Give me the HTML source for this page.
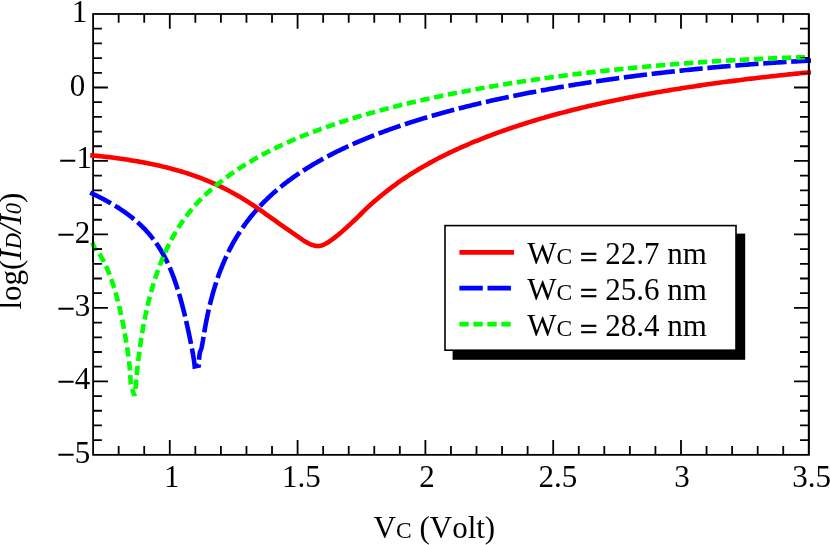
<!DOCTYPE html>
<html><head><meta charset="utf-8"><title>chart</title>
<style>
html,body{margin:0;padding:0;background:#fff;}
body{width:830px;height:545px;overflow:hidden;font-family:"Liberation Serif",serif;}
svg{display:block;will-change:transform;}
text{font-family:"Liberation Serif",serif;font-size:31px;fill:#000;font-kerning:none;}
</style></head><body>
<svg width="830" height="545" viewBox="0 0 830 545">
<rect width="830" height="545" fill="#fff"/>
<g stroke="#000" stroke-width="1.8" fill="none">
<rect x="93.1" y="14.0" width="715.70" height="440.85"/>
<path d="M118.66,454.85 v-8.8 M144.22,454.85 v-8.8 M169.78,454.85 v-14.8 M195.34,454.85 v-8.8 M220.90,454.85 v-8.8 M246.46,454.85 v-8.8 M272.02,454.85 v-8.8 M297.59,454.85 v-14.8 M323.15,454.85 v-8.8 M348.71,454.85 v-8.8 M374.27,454.85 v-8.8 M399.83,454.85 v-8.8 M425.39,454.85 v-14.8 M450.95,454.85 v-8.8 M476.51,454.85 v-8.8 M502.07,454.85 v-8.8 M527.63,454.85 v-8.8 M553.19,454.85 v-14.8 M578.75,454.85 v-8.8 M604.31,454.85 v-8.8 M629.87,454.85 v-8.8 M655.44,454.85 v-8.8 M681.00,454.85 v-14.8 M706.56,454.85 v-8.8 M732.12,454.85 v-8.8 M757.68,454.85 v-8.8 M783.24,454.85 v-8.8 M93.1,28.70 h8.8 M93.1,43.39 h8.8 M93.1,58.09 h8.8 M93.1,72.78 h8.8 M93.1,87.48 h14.8 M93.1,102.17 h8.8 M93.1,116.87 h8.8 M93.1,131.56 h8.8 M93.1,146.26 h8.8 M93.1,160.95 h14.8 M93.1,175.65 h8.8 M93.1,190.34 h8.8 M93.1,205.04 h8.8 M93.1,219.73 h8.8 M93.1,234.43 h14.8 M93.1,249.12 h8.8 M93.1,263.82 h8.8 M93.1,278.51 h8.8 M93.1,293.21 h8.8 M93.1,307.90 h14.8 M93.1,322.60 h8.8 M93.1,337.29 h8.8 M93.1,351.99 h8.8 M93.1,366.68 h8.8 M93.1,381.38 h14.8 M93.1,396.07 h8.8 M93.1,410.77 h8.8 M93.1,425.46 h8.8 M93.1,440.16 h8.8 M118.66,14.0 v8.8 M144.22,14.0 v8.8 M169.78,14.0 v14.8 M195.34,14.0 v8.8 M220.90,14.0 v8.8 M246.46,14.0 v8.8 M272.02,14.0 v8.8 M297.59,14.0 v14.8 M323.15,14.0 v8.8 M348.71,14.0 v8.8 M374.27,14.0 v8.8 M399.83,14.0 v8.8 M425.39,14.0 v14.8 M450.95,14.0 v8.8 M476.51,14.0 v8.8 M502.07,14.0 v8.8 M527.63,14.0 v8.8 M553.19,14.0 v14.8 M578.75,14.0 v8.8 M604.31,14.0 v8.8 M629.87,14.0 v8.8 M655.44,14.0 v8.8 M681.00,14.0 v14.8 M706.56,14.0 v8.8 M732.12,14.0 v8.8 M757.68,14.0 v8.8 M783.24,14.0 v8.8 M808.8,28.70 h-8.8 M808.8,43.39 h-8.8 M808.8,58.09 h-8.8 M808.8,72.78 h-8.8 M808.8,87.48 h-14.8 M808.8,102.17 h-8.8 M808.8,116.87 h-8.8 M808.8,131.56 h-8.8 M808.8,146.26 h-8.8 M808.8,160.95 h-14.8 M808.8,175.65 h-8.8 M808.8,190.34 h-8.8 M808.8,205.04 h-8.8 M808.8,219.73 h-8.8 M808.8,234.43 h-14.8 M808.8,249.12 h-8.8 M808.8,263.82 h-8.8 M808.8,278.51 h-8.8 M808.8,293.21 h-8.8 M808.8,307.90 h-14.8 M808.8,322.60 h-8.8 M808.8,337.29 h-8.8 M808.8,351.99 h-8.8 M808.8,366.68 h-8.8 M808.8,381.38 h-14.8 M808.8,396.07 h-8.8 M808.8,410.77 h-8.8 M808.8,425.46 h-8.8 M808.8,440.16 h-8.8"/>
</g>
<g fill="none" stroke-width="4.6" stroke-linejoin="miter">
<path d="M90.20,192.59 L91.36,193.13 L92.51,193.68 L93.67,194.24 L94.83,194.80 L95.98,195.37 L97.14,195.94 L98.29,196.52 L99.45,197.10 L100.61,197.70 L101.76,198.29 L102.92,198.90 L104.08,199.51 L105.23,200.13 L106.39,200.76 L107.55,201.40 L108.70,202.04 L109.86,202.70 L111.01,203.36 L112.17,204.04 L113.33,204.72 L114.48,205.41 L115.64,206.12 L116.80,206.84 L117.95,207.56 L119.11,208.30 L120.26,209.06 L121.42,209.82 L122.58,210.60 L123.73,211.40 L124.89,212.21 L126.05,213.03 L127.20,213.87 L128.36,214.73 L129.52,215.61 L130.67,216.50 L131.83,217.41 L132.98,218.34 L134.14,219.30 L135.30,220.27 L136.45,221.27 L137.61,222.29 L138.77,223.33 L139.92,224.41 L141.08,225.50 L142.24,226.63 L143.39,227.79 L144.55,228.97 L145.70,230.19 L146.86,231.45 L148.02,232.74 L149.17,234.07 L150.33,235.44 L151.49,236.85 L152.64,238.31 L153.80,239.82 L154.96,241.37 L156.11,242.98 L157.27,244.65 L158.42,246.38 L159.58,248.17 L160.74,250.03 L161.89,251.97 L163.05,253.99 L164.21,256.10 L165.36,258.29 L166.52,260.59 L167.68,263.00 L168.83,265.53 L169.99,268.18 L171.14,270.96 L172.30,273.87 L173.46,276.92 L174.61,280.11 L175.77,283.45 L176.93,286.95 L178.08,290.60 L179.24,294.42 L180.39,298.41 L181.55,302.58 L181.73,303.24 L181.90,303.89 L182.08,304.54 L182.25,305.18 L182.42,305.82 L182.58,306.46 L182.75,307.09 L182.91,307.72 L183.07,308.35 L183.23,308.97 L183.39,309.59 L183.54,310.21 L183.70,310.82 L183.85,311.43 L184.00,312.04 L184.15,312.64 L184.30,313.24 L184.44,313.83 L184.59,314.42 L184.73,315.01 L184.90,315.73 L185.08,316.45 L185.25,317.17 L185.41,317.88 L185.58,318.58 L185.74,319.28 L185.90,319.97 L186.06,320.66 L186.22,321.33 L186.37,322.01 L186.52,322.67 L186.67,323.33 L186.82,323.99 L186.96,324.63 L187.10,325.27 L187.25,325.91 L187.38,326.54 L187.52,327.16 L187.66,327.77 L187.79,328.38 L187.92,328.99 L188.05,329.58 L188.18,330.18 L188.33,330.88 L188.47,331.57 L188.62,332.25 L188.76,332.93 L188.90,333.59 L189.04,334.25 L189.18,334.90 L189.31,335.53 L189.44,336.16 L189.57,336.79 L189.69,337.40 L189.82,338.00 L189.94,338.60 L190.08,339.28 L190.22,339.96 L190.35,340.62 L190.48,341.27 L190.61,341.91 L190.74,342.54 L190.86,343.16 L190.98,343.77 L191.10,344.36 L191.23,345.03 L191.36,345.69 L191.49,346.33 L191.61,346.96 L191.73,347.57 L191.85,348.18 L191.97,348.77 L192.10,349.43 L192.22,350.07 L192.34,350.70 L192.46,351.32 L192.57,351.94 L192.68,352.54 L192.79,353.14 L192.90,353.73 L193.01,354.38 L193.12,355.02 L193.23,355.66 L193.33,356.29 L193.43,356.91 L193.53,357.53 L193.63,358.15 L193.72,358.76 L193.81,359.37 L193.90,359.97 L193.99,360.56 L194.08,361.22 L194.17,361.87 L194.25,362.51 L194.33,363.15 L194.41,363.78 L194.49,364.41 L194.57,365.05 L194.63,365.65 L194.70,366.26 L194.71,366.39 L198.71,365.52 L198.74,364.86 L198.78,364.23 L198.81,363.60 L198.84,363.00 L198.88,362.30 L198.92,361.63 L198.97,360.98 L199.01,360.35 L199.05,359.73 L199.10,359.06 L199.15,358.41 L199.21,357.79 L199.27,357.12 L199.33,356.49 L199.40,355.89 L199.47,355.26 L199.55,354.62 L199.65,353.98 L199.76,353.35 L199.87,352.74 L200.02,352.13 L200.18,351.54 L200.39,350.96 L200.63,350.38 L200.88,349.81 L201.09,349.23 L201.28,348.63 L201.45,348.02 L201.60,347.42 L201.74,346.83 L201.88,346.17 L202.01,345.54 L202.13,344.94 L202.25,344.30 L202.38,343.62 L202.49,343.01 L202.61,342.36 L202.72,341.69 L202.83,341.10 L202.93,340.48 L203.04,339.85 L203.15,339.21 L203.26,338.55 L203.37,337.87 L203.48,337.18 L203.60,336.47 L203.69,335.87 L203.79,335.26 L203.90,334.65 L204.00,334.03 L204.10,333.40 L204.21,332.76 L204.31,332.12 L204.42,331.48 L204.53,330.83 L204.64,330.18 L204.76,329.53 L204.87,328.87 L204.99,328.21 L205.11,327.54 L205.23,326.87 L205.35,326.20 L205.47,325.53 L205.60,324.85 L205.73,324.16 L205.85,323.48 L205.99,322.79 L206.12,322.09 L206.25,321.39 L206.39,320.69 L206.53,319.99 L206.67,319.28 L206.81,318.57 L206.96,317.86 L207.11,317.14 L207.25,316.42 L207.41,315.69 L207.56,314.96 L207.72,314.23 L207.84,313.64 L207.97,313.05 L208.10,312.46 L208.23,311.86 L208.36,311.27 L208.50,310.67 L208.63,310.07 L208.77,309.46 L208.91,308.86 L209.05,308.25 L209.19,307.64 L209.33,307.03 L209.48,306.41 L209.63,305.80 L209.77,305.18 L209.92,304.56 L210.08,303.94 L210.23,303.31 L210.39,302.69 L210.54,302.06 L210.70,301.43 L210.86,300.79 L211.03,300.16 L211.19,299.52 L211.36,298.88 L211.53,298.24 L211.70,297.60 L211.87,296.95 L212.05,296.31 L212.22,295.66 L213.42,291.39 L214.62,287.35 L215.82,283.51 L217.02,279.86 L218.22,276.37 L219.42,273.04 L220.62,269.85 L221.82,266.79 L223.02,263.86 L224.22,261.03 L225.42,258.32 L226.62,255.70 L227.82,253.17 L229.02,250.73 L230.22,248.37 L231.42,246.08 L232.62,243.87 L233.82,241.72 L235.02,239.64 L236.22,237.62 L237.42,235.65 L238.62,233.74 L239.82,231.88 L241.02,230.07 L242.22,228.30 L243.42,226.58 L244.62,224.90 L245.82,223.25 L247.02,221.64 L248.22,220.06 L249.42,218.52 L250.62,217.00 L251.82,215.51 L253.02,214.06 L254.22,212.63 L255.42,211.24 L256.62,209.87 L257.82,208.52 L259.02,207.21 L260.22,205.92 L261.42,204.65 L262.62,203.40 L263.82,202.18 L265.02,200.97 L266.22,199.79 L267.42,198.63 L268.62,197.48 L269.82,196.35 L271.02,195.25 L272.22,194.16 L273.42,193.08 L274.62,192.02 L275.82,190.98 L277.02,189.95 L278.22,188.94 L279.42,187.94 L280.62,186.96 L281.82,185.99 L283.02,185.03 L284.22,184.08 L285.42,183.15 L286.62,182.23 L287.82,181.32 L289.02,180.43 L290.22,179.54 L291.42,178.67 L292.62,177.80 L293.82,176.95 L295.02,176.11 L296.22,175.27 L297.42,174.45 L298.62,173.64 L299.82,172.83 L301.02,172.03 L302.22,171.25 L303.42,170.47 L304.62,169.70 L305.82,168.94 L307.02,168.18 L308.22,167.44 L309.42,166.70 L310.62,165.97 L311.82,165.25 L313.02,164.53 L314.22,163.82 L315.42,163.12 L316.62,162.43 L317.82,161.74 L319.02,161.06 L320.22,160.39 L321.42,159.72 L322.62,159.06 L323.82,158.40 L325.02,157.75 L326.22,157.11 L327.42,156.47 L328.62,155.84 L329.82,155.21 L331.02,154.59 L332.22,153.97 L333.42,153.36 L334.62,152.76 L335.82,152.16 L337.02,151.56 L338.22,150.97 L339.42,150.39 L340.62,149.81 L341.82,149.23 L343.02,148.66 L344.22,148.10 L345.42,147.54 L346.62,146.98 L347.82,146.43 L349.02,145.88 L350.22,145.34 L351.42,144.80 L352.62,144.26 L353.82,143.73 L355.02,143.20 L356.22,142.68 L357.42,142.16 L358.62,141.64 L359.82,141.13 L361.02,140.62 L362.22,140.12 L363.42,139.62 L364.62,139.12 L365.82,138.63 L367.02,138.14 L368.22,137.65 L369.42,137.17 L370.62,136.69 L371.82,136.21 L373.02,135.74 L374.22,135.27 L375.42,134.81 L376.62,134.34 L377.82,133.88 L379.02,133.42 L380.22,132.97 L381.42,132.52 L382.62,132.07 L383.82,131.63 L385.02,131.18 L386.22,130.75 L387.42,130.31 L388.62,129.88 L389.82,129.44 L391.02,129.02 L392.22,128.59 L393.42,128.17 L394.62,127.75 L395.82,127.33 L397.02,126.92 L398.22,126.50 L399.42,126.10 L400.62,125.69 L401.82,125.28 L403.02,124.88 L404.22,124.48 L405.42,124.08 L406.62,123.69 L407.82,123.30 L409.02,122.91 L410.22,122.52 L411.42,122.13 L412.62,121.75 L413.82,121.37 L415.02,120.99 L416.22,120.61 L417.42,120.24 L418.62,119.87 L419.82,119.50 L421.02,119.13 L422.22,118.76 L423.42,118.40 L424.62,118.04 L425.82,117.68 L427.02,117.32 L428.22,116.97 L429.42,116.61 L430.62,116.26 L431.82,115.91 L433.02,115.56 L434.22,115.22 L435.42,114.87 L436.61,114.53 L437.81,114.19 L439.01,113.85 L440.21,113.52 L441.41,113.18 L442.61,112.85 L443.81,112.52 L445.01,112.19 L446.21,111.86 L447.41,111.53 L448.61,111.21 L449.81,110.89 L451.01,110.57 L452.21,110.25 L453.41,109.93 L454.61,109.62 L455.81,109.30 L457.01,108.99 L458.21,108.68 L459.41,108.37 L460.61,108.06 L461.81,107.76 L463.01,107.45 L464.21,107.15 L465.41,106.85 L466.61,106.55 L467.81,106.25 L469.01,105.95 L470.21,105.66 L471.41,105.36 L472.61,105.07 L473.81,104.78 L475.01,104.49 L476.21,104.20 L477.41,103.92 L478.61,103.63 L479.81,103.35 L481.01,103.07 L482.21,102.78 L483.41,102.51 L484.61,102.23 L485.81,101.95 L487.01,101.68 L488.21,101.40 L489.41,101.13 L490.61,100.86 L491.81,100.59 L493.01,100.32 L494.21,100.05 L495.41,99.79 L496.61,99.52 L497.81,99.26 L499.01,98.99 L500.21,98.73 L501.41,98.47 L502.61,98.22 L503.81,97.96 L505.01,97.70 L506.21,97.45 L507.41,97.19 L508.61,96.94 L509.81,96.69 L511.01,96.44 L512.21,96.19 L513.41,95.94 L514.61,95.70 L515.81,95.45 L517.01,95.21 L518.21,94.97 L519.41,94.72 L520.61,94.48 L521.81,94.24 L523.01,94.01 L524.21,93.77 L525.41,93.53 L526.61,93.30 L527.81,93.06 L529.01,92.83 L530.21,92.60 L531.41,92.37 L532.61,92.14 L533.81,91.91 L535.01,91.68 L536.21,91.46 L537.41,91.23 L538.61,91.01 L539.81,90.78 L541.01,90.56 L542.21,90.34 L543.41,90.12 L544.61,89.90 L545.81,89.68 L547.01,89.46 L548.21,89.25 L549.41,89.03 L550.61,88.82 L551.81,88.61 L553.01,88.39 L554.21,88.18 L555.41,87.97 L556.61,87.76 L557.81,87.56 L559.01,87.35 L560.21,87.14 L561.41,86.94 L562.61,86.73 L563.81,86.53 L565.01,86.33 L566.21,86.12 L567.41,85.92 L568.61,85.72 L569.81,85.52 L571.01,85.33 L572.21,85.13 L573.41,84.93 L574.61,84.74 L575.81,84.54 L577.01,84.35 L578.21,84.16 L579.41,83.97 L580.61,83.78 L581.81,83.59 L583.01,83.40 L584.21,83.21 L585.41,83.02 L586.61,82.83 L587.81,82.65 L589.01,82.46 L590.21,82.28 L591.41,82.10 L592.61,81.92 L593.81,81.73 L595.01,81.55 L596.21,81.37 L597.41,81.20 L598.61,81.02 L599.81,80.84 L601.01,80.66 L602.21,80.49 L603.41,80.31 L604.61,80.14 L605.81,79.97 L607.01,79.79 L608.21,79.62 L609.41,79.45 L610.61,79.28 L611.81,79.11 L613.01,78.95 L614.21,78.78 L615.41,78.61 L616.61,78.45 L617.81,78.28 L619.01,78.12 L620.21,77.95 L621.41,77.79 L622.61,77.63 L623.81,77.47 L625.01,77.31 L626.21,77.15 L627.41,76.99 L628.61,76.83 L629.81,76.67 L631.01,76.51 L632.21,76.36 L633.41,76.20 L634.61,76.05 L635.81,75.90 L637.01,75.74 L638.21,75.59 L639.41,75.44 L640.61,75.29 L641.81,75.14 L643.01,74.99 L644.21,74.84 L645.41,74.69 L646.61,74.55 L647.81,74.40 L649.01,74.25 L650.21,74.11 L651.41,73.96 L652.61,73.82 L653.81,73.68 L655.01,73.54 L656.21,73.39 L657.41,73.25 L658.61,73.11 L659.81,72.97 L661.01,72.84 L662.21,72.70 L663.41,72.56 L664.61,72.42 L665.81,72.29 L667.01,72.15 L668.21,72.02 L669.41,71.89 L670.61,71.75 L671.81,71.62 L673.01,71.49 L674.21,71.36 L675.41,71.23 L676.61,71.10 L677.81,70.97 L679.01,70.84 L680.21,70.71 L681.41,70.59 L682.61,70.46 L683.81,70.33 L685.01,70.21 L686.20,70.08 L687.40,69.96 L688.60,69.84 L689.80,69.72 L691.00,69.59 L692.20,69.47 L693.40,69.35 L694.60,69.23 L695.80,69.11 L697.00,69.00 L698.20,68.88 L699.40,68.76 L700.60,68.64 L701.80,68.53 L703.00,68.41 L704.20,68.30 L705.40,68.18 L706.60,68.07 L707.80,67.96 L709.00,67.85 L710.20,67.74 L711.40,67.62 L712.60,67.51 L713.80,67.41 L715.00,67.30 L716.20,67.19 L717.40,67.08 L718.60,66.97 L719.80,66.87 L721.00,66.76 L722.20,66.66 L723.40,66.55 L724.60,66.45 L725.80,66.35 L727.00,66.24 L728.20,66.14 L729.40,66.04 L730.60,65.94 L731.80,65.84 L733.00,65.74 L734.20,65.64 L735.40,65.54 L736.60,65.45 L737.80,65.35 L739.00,65.25 L740.20,65.16 L741.40,65.06 L742.60,64.97 L743.80,64.87 L745.00,64.78 L746.20,64.69 L747.40,64.59 L748.60,64.50 L749.80,64.41 L751.00,64.32 L752.20,64.23 L753.40,64.14 L754.60,64.06 L755.80,63.97 L757.00,63.88 L758.20,63.79 L759.40,63.71 L760.60,63.62 L761.80,63.54 L763.00,63.45 L764.20,63.37 L765.40,63.29 L766.60,63.20 L767.80,63.12 L769.00,63.04 L770.20,62.96 L771.40,62.88 L772.60,62.80 L773.80,62.72 L775.00,62.64 L776.20,62.57 L777.40,62.49 L778.60,62.41 L779.80,62.34 L781.00,62.26 L782.20,62.19 L783.40,62.11 L784.60,62.04 L785.80,61.97 L787.00,61.89 L788.20,61.82 L789.40,61.75 L790.60,61.68 L791.80,61.61 L793.00,61.54 L794.20,61.47 L795.40,61.40 L796.60,61.34 L797.80,61.27 L799.00,61.20 L800.20,61.14 L801.40,61.07 L802.60,61.01 L803.80,60.94 L805.00,60.88 L806.20,60.82 L807.40,60.76 L808.60,60.69 L809.80,60.63 L811.00,60.57" stroke="#00f" stroke-dasharray="23.35 4.67"/>
<path d="M90.20,155.19 L92.01,155.36 L93.81,155.54 L95.62,155.72 L97.43,155.90 L99.23,156.09 L101.04,156.28 L102.85,156.48 L104.65,156.69 L106.46,156.89 L108.27,157.11 L110.07,157.33 L111.88,157.55 L113.68,157.78 L115.49,158.02 L117.30,158.26 L119.10,158.51 L120.91,158.76 L122.72,159.02 L124.52,159.28 L126.33,159.55 L128.14,159.83 L129.94,160.11 L131.75,160.40 L133.56,160.70 L135.36,161.00 L137.17,161.31 L138.98,161.63 L140.78,161.95 L142.59,162.28 L144.40,162.62 L146.20,162.96 L148.01,163.32 L149.82,163.68 L151.62,164.05 L153.43,164.42 L155.23,164.81 L157.04,165.20 L158.85,165.61 L160.65,166.02 L162.46,166.44 L164.27,166.87 L166.07,167.31 L167.88,167.76 L169.69,168.23 L171.49,168.70 L173.30,169.18 L175.11,169.68 L176.91,170.19 L178.72,170.71 L180.53,171.24 L182.33,171.78 L184.14,172.34 L185.95,172.91 L187.75,173.49 L189.56,174.09 L191.36,174.70 L193.17,175.32 L194.98,175.96 L196.78,176.61 L198.59,177.28 L200.40,177.95 L202.20,178.65 L204.01,179.36 L205.82,180.08 L207.62,180.82 L209.43,181.58 L211.24,182.35 L213.04,183.13 L214.85,183.94 L216.66,184.76 L218.46,185.60 L220.27,186.45 L222.08,187.32 L223.88,188.21 L225.69,189.12 L227.50,190.05 L229.30,190.99 L231.11,191.96 L232.91,192.94 L234.72,193.94 L236.53,194.96 L238.33,196.00 L240.14,197.06 L241.95,198.14 L243.75,199.24 L245.56,200.36 L247.37,201.50 L249.17,202.65 L250.98,203.83 L252.79,205.02 L254.59,206.23 L256.40,207.45 L258.21,208.69 L260.01,209.94 L261.82,211.21 L263.63,212.49 L265.43,213.77 L267.24,215.06 L269.05,216.35 L270.85,217.64 L272.66,218.92 L274.46,220.20 L276.27,221.49 L278.08,222.76 L279.88,224.04 L281.69,225.31 L283.50,226.59 L285.30,227.86 L287.11,229.13 L288.92,230.40 L290.72,231.67 L292.53,232.94 L294.34,234.20 L296.14,235.46 L297.95,236.71 L299.76,237.94 L301.56,239.15 L303.37,240.32 L305.18,241.44 L306.98,242.50 L308.79,243.47 L310.59,244.33 L312.40,245.04 L314.21,245.58 L316.01,245.90 L317.82,246.00 L319.63,245.85 L321.43,245.45 L323.24,244.84 L325.05,244.03 L326.85,243.05 L328.66,241.94 L330.47,240.73 L332.27,239.43 L334.08,238.07 L335.89,236.66 L337.69,235.20 L339.50,233.70 L341.31,232.18 L343.11,230.62 L344.92,229.03 L346.73,227.42 L348.53,225.78 L350.34,224.12 L352.14,222.44 L353.95,220.74 L355.76,219.02 L357.56,217.28 L359.37,215.52 L361.18,213.74 L362.98,211.96 L364.79,210.19 L366.60,208.43 L368.40,206.70 L370.21,205.01 L372.02,203.35 L373.82,201.75 L375.63,200.18 L377.44,198.65 L379.24,197.14 L381.05,195.66 L382.86,194.20 L384.66,192.76 L386.47,191.34 L388.28,189.94 L390.08,188.56 L391.89,187.20 L393.69,185.86 L395.50,184.54 L397.31,183.24 L399.11,181.96 L400.92,180.70 L402.73,179.46 L404.53,178.24 L406.34,177.04 L408.15,175.85 L409.95,174.68 L411.76,173.53 L413.57,172.40 L415.37,171.28 L417.18,170.18 L418.99,169.09 L420.79,168.02 L422.60,166.96 L424.41,165.92 L426.21,164.90 L428.02,163.88 L429.83,162.88 L431.63,161.89 L433.44,160.92 L435.24,159.96 L437.05,159.01 L438.86,158.07 L440.66,157.15 L442.47,156.24 L444.28,155.33 L446.08,154.44 L447.89,153.56 L449.70,152.69 L451.50,151.83 L453.31,150.98 L455.12,150.14 L456.92,149.31 L458.73,148.49 L460.54,147.68 L462.34,146.88 L464.15,146.08 L465.96,145.30 L467.76,144.52 L469.57,143.75 L471.37,142.99 L473.18,142.24 L474.99,141.49 L476.79,140.76 L478.60,140.03 L480.41,139.31 L482.21,138.59 L484.02,137.88 L485.83,137.18 L487.63,136.49 L489.44,135.80 L491.25,135.12 L493.05,134.44 L494.86,133.77 L496.67,133.11 L498.47,132.46 L500.28,131.80 L502.09,131.16 L503.89,130.52 L505.70,129.89 L507.51,129.26 L509.31,128.64 L511.12,128.02 L512.92,127.41 L514.73,126.81 L516.54,126.21 L518.34,125.61 L520.15,125.03 L521.96,124.44 L523.76,123.86 L525.57,123.29 L527.38,122.72 L529.18,122.16 L530.99,121.60 L532.80,121.05 L534.60,120.50 L536.41,119.96 L538.22,119.42 L540.02,118.89 L541.83,118.36 L543.64,117.84 L545.44,117.32 L547.25,116.80 L549.06,116.29 L550.86,115.79 L552.67,115.29 L554.47,114.79 L556.28,114.30 L558.09,113.81 L559.89,113.33 L561.70,112.85 L563.51,112.37 L565.31,111.90 L567.12,111.43 L568.93,110.97 L570.73,110.51 L572.54,110.05 L574.35,109.60 L576.15,109.15 L577.96,108.71 L579.77,108.26 L581.57,107.83 L583.38,107.39 L585.19,106.96 L586.99,106.54 L588.80,106.11 L590.61,105.69 L592.41,105.28 L594.22,104.87 L596.02,104.46 L597.83,104.05 L599.64,103.65 L601.44,103.25 L603.25,102.85 L605.06,102.46 L606.86,102.07 L608.67,101.68 L610.48,101.30 L612.28,100.91 L614.09,100.54 L615.90,100.16 L617.70,99.79 L619.51,99.42 L621.32,99.05 L623.12,98.69 L624.93,98.33 L626.74,97.97 L628.54,97.61 L630.35,97.26 L632.15,96.91 L633.96,96.56 L635.77,96.22 L637.57,95.88 L639.38,95.54 L641.19,95.20 L642.99,94.87 L644.80,94.53 L646.61,94.20 L648.41,93.88 L650.22,93.55 L652.03,93.23 L653.83,92.91 L655.64,92.59 L657.45,92.28 L659.25,91.96 L661.06,91.65 L662.87,91.35 L664.67,91.04 L666.48,90.74 L668.29,90.43 L670.09,90.13 L671.90,89.84 L673.70,89.54 L675.51,89.25 L677.32,88.96 L679.12,88.67 L680.93,88.38 L682.74,88.10 L684.54,87.81 L686.35,87.53 L688.16,87.25 L689.96,86.98 L691.77,86.70 L693.58,86.43 L695.38,86.16 L697.19,85.89 L699.00,85.62 L700.80,85.36 L702.61,85.09 L704.42,84.83 L706.22,84.57 L708.03,84.31 L709.84,84.06 L711.64,83.80 L713.45,83.55 L715.25,83.30 L717.06,83.05 L718.87,82.80 L720.67,82.55 L722.48,82.31 L724.29,82.07 L726.09,81.83 L727.90,81.59 L729.71,81.35 L731.51,81.12 L733.32,80.88 L735.13,80.65 L736.93,80.42 L738.74,80.19 L740.55,79.96 L742.35,79.73 L744.16,79.51 L745.97,79.29 L747.77,79.06 L749.58,78.84 L751.38,78.63 L753.19,78.41 L755.00,78.19 L756.80,77.98 L758.61,77.77 L760.42,77.55 L762.22,77.34 L764.03,77.14 L765.84,76.93 L767.64,76.72 L769.45,76.52 L771.26,76.32 L773.06,76.12 L774.87,75.92 L776.68,75.72 L778.48,75.52 L780.29,75.32 L782.10,75.13 L783.90,74.94 L785.71,74.74 L787.52,74.55 L789.32,74.36 L791.13,74.18 L792.93,73.99 L794.74,73.80 L796.55,73.62 L798.35,73.44 L800.16,73.26 L801.97,73.08 L803.77,72.90 L805.58,72.72 L807.39,72.54 L809.19,72.37 L811.00,72.19" stroke="#f00"/>
<path d="M92.30,242.30 L95.90,251.40 L98.84,253.07 L99.19,253.59 L99.53,254.12 L99.88,254.67 L100.22,255.22 L100.57,255.78 L100.91,256.36 L101.26,256.94 L101.61,257.54 L101.95,258.14 L102.30,258.76 L102.64,259.39 L102.99,260.04 L103.33,260.69 L103.68,261.36 L104.02,262.03 L104.37,262.72 L104.72,263.42 L105.06,264.14 L105.41,264.86 L105.75,265.60 L106.10,266.35 L106.44,267.12 L106.79,267.90 L107.14,268.69 L107.48,269.49 L107.83,270.31 L108.17,271.14 L108.52,271.98 L108.86,272.84 L109.21,273.72 L109.55,274.61 L109.90,275.51 L110.25,276.43 L110.59,277.36 L110.94,278.31 L111.28,279.27 L111.63,280.25 L111.97,281.25 L112.32,282.26 L112.66,283.29 L113.01,284.34 L113.36,285.40 L113.70,286.48 L114.05,287.58 L114.39,288.70 L114.74,289.84 L115.08,290.99 L115.43,292.17 L115.78,293.37 L116.12,294.58 L116.47,295.82 L116.81,297.08 L117.16,298.36 L117.50,299.66 L117.68,300.33 L117.86,301.00 L118.03,301.68 L118.20,302.35 L118.37,303.01 L118.53,303.68 L118.70,304.34 L118.86,305.00 L119.02,305.66 L119.18,306.32 L119.34,306.97 L119.50,307.62 L119.65,308.27 L119.80,308.92 L119.95,309.56 L120.10,310.21 L120.25,310.85 L120.39,311.48 L120.54,312.12 L120.68,312.75 L120.82,313.38 L120.96,314.01 L121.10,314.63 L121.23,315.25 L121.37,315.87 L121.50,316.49 L121.63,317.10 L121.76,317.71 L121.89,318.32 L122.01,318.92 L122.14,319.53 L122.26,320.13 L122.38,320.72 L122.50,321.32 L122.62,321.91 L122.77,322.64 L122.91,323.37 L123.06,324.09 L123.20,324.81 L123.34,325.53 L123.47,326.24 L123.61,326.95 L123.74,327.65 L123.87,328.34 L124.00,329.04 L124.13,329.72 L124.25,330.40 L124.38,331.08 L124.50,331.75 L124.62,332.42 L124.74,333.08 L124.85,333.74 L124.97,334.39 L125.08,335.04 L125.19,335.68 L125.31,336.32 L125.41,336.95 L125.52,337.58 L125.63,338.20 L125.73,338.82 L125.83,339.43 L125.93,340.04 L126.03,340.64 L126.13,341.24 L126.23,341.83 L126.34,342.53 L126.45,343.23 L126.56,343.92 L126.67,344.60 L126.78,345.28 L126.88,345.94 L126.99,346.61 L127.09,347.26 L127.19,347.91 L127.28,348.55 L127.38,349.18 L127.47,349.81 L127.57,350.42 L127.66,351.04 L127.75,351.65 L127.83,352.25 L127.92,352.85 L128.01,353.45 L128.10,354.14 L128.20,354.83 L128.29,355.52 L128.38,356.20 L128.47,356.88 L128.56,357.57 L128.65,358.25 L128.73,358.93 L128.81,359.61 L128.89,360.29 L128.97,360.98 L129.05,361.66 L129.13,362.35 L129.20,363.04 L129.27,363.73 L129.35,364.42 L129.42,365.11 L129.49,365.81 L129.54,366.41 L129.60,367.01 L129.66,367.61 L129.71,368.21 L129.77,368.82 L129.82,369.43 L129.87,370.04 L129.92,370.66 L129.97,371.29 L130.02,371.92 L130.07,372.56 L130.12,373.21 L130.16,373.87 L130.21,374.54 L130.26,375.22 L130.30,375.91 L130.34,376.62 L130.39,377.34 L130.42,377.94 L130.46,378.56 L130.49,379.19 L130.53,379.82 L130.56,380.47 L130.59,381.13 L130.62,381.79 L130.66,382.47 L130.69,383.16 L130.72,383.85 L130.72,383.99 L134.30,395.70 L135.30,390.91 L135.35,390.23 L135.40,389.56 L135.45,388.90 L135.51,388.23 L135.56,387.57 L135.62,386.91 L135.67,386.25 L135.73,385.58 L135.79,384.92 L135.85,384.24 L135.91,383.56 L135.98,382.86 L136.03,382.26 L136.09,381.65 L136.15,381.04 L136.20,380.41 L136.26,379.78 L136.32,379.14 L136.38,378.49 L136.45,377.84 L136.51,377.18 L136.57,376.51 L136.64,375.84 L136.71,375.15 L136.77,374.46 L136.84,373.77 L136.91,373.06 L136.99,372.35 L137.06,371.64 L137.12,371.04 L137.18,370.43 L137.25,369.82 L137.31,369.20 L137.38,368.58 L137.44,367.96 L137.51,367.33 L137.58,366.70 L137.65,366.06 L137.72,365.42 L137.79,364.78 L137.86,364.13 L137.93,363.48 L138.01,362.83 L138.08,362.17 L138.16,361.50 L138.24,360.84 L138.32,360.17 L138.40,359.49 L138.48,358.81 L138.56,358.13 L138.64,357.44 L138.73,356.75 L138.81,356.06 L138.90,355.36 L138.99,354.66 L139.08,353.96 L139.17,353.25 L139.26,352.53 L139.36,351.82 L139.45,351.10 L139.55,350.37 L139.65,349.64 L139.75,348.91 L139.85,348.18 L139.95,347.44 L140.05,346.69 L140.14,346.10 L140.22,345.50 L140.31,344.90 L140.40,344.29 L140.48,343.69 L140.57,343.08 L140.66,342.47 L140.76,341.85 L140.85,341.24 L140.94,340.62 L141.04,340.00 L141.13,339.38 L141.23,338.75 L141.33,338.12 L141.43,337.49 L141.53,336.86 L141.63,336.23 L141.73,335.59 L141.83,334.95 L141.94,334.31 L142.04,333.67 L142.15,333.02 L142.26,332.37 L142.37,331.72 L142.48,331.07 L142.59,330.41 L142.71,329.76 L142.82,329.10 L142.94,328.44 L143.06,327.77 L143.18,327.11 L143.30,326.44 L143.42,325.77 L143.54,325.10 L143.67,324.42 L143.79,323.75 L143.92,323.07 L144.05,322.38 L144.18,321.70 L144.31,321.02 L144.45,320.33 L144.58,319.64 L144.72,318.95 L144.86,318.25 L145.00,317.56 L145.14,316.86 L145.29,316.16 L145.43,315.45 L145.58,314.75 L145.73,314.04 L145.88,313.33 L146.03,312.62 L146.18,311.91 L146.34,311.20 L146.50,310.48 L146.66,309.76 L146.82,309.04 L146.98,308.32 L147.14,307.59 L147.31,306.86 L147.48,306.14 L147.65,305.40 L147.82,304.67 L148.00,303.94 L148.18,303.20 L149.49,297.92 L150.81,292.95 L152.13,288.27 L153.44,283.84 L154.76,279.63 L156.07,275.63 L157.39,271.82 L158.71,268.17 L160.02,264.69 L161.34,261.35 L162.66,258.14 L163.97,255.05 L165.29,252.09 L166.60,249.23 L167.92,246.47 L169.24,243.81 L170.55,241.24 L171.87,238.76 L173.19,236.36 L174.50,234.03 L175.82,231.78 L177.13,229.59 L178.45,227.48 L179.77,225.42 L181.08,223.43 L182.40,221.50 L183.72,219.62 L185.03,217.79 L186.35,216.01 L187.66,214.28 L188.98,212.60 L190.30,210.96 L191.61,209.36 L192.93,207.81 L194.25,206.29 L195.56,204.82 L196.88,203.37 L198.19,201.96 L199.51,200.58 L200.83,199.23 L202.14,197.91 L203.46,196.62 L204.78,195.35 L206.09,194.11 L207.41,192.89 L208.73,191.69 L210.04,190.52 L211.36,189.37 L212.67,188.23 L213.99,187.12 L215.31,186.02 L216.62,184.94 L217.94,183.88 L219.26,182.83 L220.57,181.80 L221.89,180.78 L223.20,179.77 L224.52,178.77 L225.84,177.79 L227.15,176.82 L228.47,175.86 L229.79,174.90 L231.10,173.96 L232.42,173.03 L233.73,172.12 L235.05,171.21 L236.37,170.32 L237.68,169.44 L239.00,168.57 L240.32,167.71 L241.63,166.86 L242.95,166.03 L244.26,165.20 L245.58,164.38 L246.90,163.57 L248.21,162.78 L249.53,161.99 L250.85,161.21 L252.16,160.44 L253.48,159.67 L254.79,158.92 L256.11,158.17 L257.43,157.44 L258.74,156.71 L260.06,155.98 L261.38,155.27 L262.69,154.56 L264.01,153.86 L265.33,153.17 L266.64,152.48 L267.96,151.81 L269.27,151.13 L270.59,150.47 L271.91,149.81 L273.22,149.16 L274.54,148.51 L275.86,147.87 L277.17,147.24 L278.49,146.61 L279.80,145.99 L281.12,145.37 L282.44,144.76 L283.75,144.15 L285.07,143.55 L286.39,142.96 L287.70,142.37 L289.02,141.78 L290.33,141.21 L291.65,140.63 L292.97,140.06 L294.28,139.50 L295.60,138.94 L296.92,138.38 L298.23,137.83 L299.55,137.29 L300.86,136.74 L302.18,136.21 L303.50,135.67 L304.81,135.15 L306.13,134.62 L307.45,134.10 L308.76,133.59 L310.08,133.07 L311.39,132.57 L312.71,132.06 L314.03,131.56 L315.34,131.07 L316.66,130.57 L317.98,130.08 L319.29,129.60 L320.61,129.12 L321.93,128.64 L323.24,128.16 L324.56,127.69 L325.87,127.22 L327.19,126.76 L328.51,126.30 L329.82,125.84 L331.14,125.39 L332.46,124.94 L333.77,124.49 L335.09,124.04 L336.40,123.60 L337.72,123.16 L339.04,122.73 L340.35,122.29 L341.67,121.86 L342.99,121.44 L344.30,121.01 L345.62,120.59 L346.93,120.17 L348.25,119.76 L349.57,119.34 L350.88,118.93 L352.20,118.52 L353.52,118.12 L354.83,117.72 L356.15,117.32 L357.46,116.92 L358.78,116.53 L360.10,116.13 L361.41,115.74 L362.73,115.36 L364.05,114.97 L365.36,114.59 L366.68,114.21 L368.00,113.83 L369.31,113.46 L370.63,113.08 L371.94,112.71 L373.26,112.34 L374.58,111.98 L375.89,111.61 L377.21,111.25 L378.53,110.89 L379.84,110.54 L381.16,110.18 L382.47,109.83 L383.79,109.48 L385.11,109.13 L386.42,108.78 L387.74,108.44 L389.06,108.09 L390.37,107.75 L391.69,107.41 L393.00,107.08 L394.32,106.74 L395.64,106.41 L396.95,106.08 L398.27,105.75 L399.59,105.42 L400.90,105.10 L402.22,104.77 L403.53,104.45 L404.85,104.13 L406.17,103.81 L407.48,103.50 L408.80,103.18 L410.12,102.87 L411.43,102.56 L412.75,102.25 L414.06,101.94 L415.38,101.64 L416.70,101.33 L418.01,101.03 L419.33,100.73 L420.65,100.43 L421.96,100.13 L423.28,99.84 L424.60,99.54 L425.91,99.25 L427.23,98.96 L428.54,98.67 L429.86,98.38 L431.18,98.09 L432.49,97.81 L433.81,97.53 L435.13,97.24 L436.44,96.96 L437.76,96.68 L439.07,96.41 L440.39,96.13 L441.71,95.86 L443.02,95.58 L444.34,95.31 L445.66,95.04 L446.97,94.77 L448.29,94.51 L449.60,94.24 L450.92,93.98 L452.24,93.71 L453.55,93.45 L454.87,93.19 L456.19,92.93 L457.50,92.67 L458.82,92.42 L460.13,92.16 L461.45,91.91 L462.77,91.66 L464.08,91.40 L465.40,91.15 L466.72,90.91 L468.03,90.66 L469.35,90.41 L470.66,90.17 L471.98,89.93 L473.30,89.68 L474.61,89.44 L475.93,89.20 L477.25,88.96 L478.56,88.73 L479.88,88.49 L481.20,88.26 L482.51,88.02 L483.83,87.79 L485.14,87.56 L486.46,87.33 L487.78,87.10 L489.09,86.87 L490.41,86.64 L491.73,86.42 L493.04,86.19 L494.36,85.97 L495.67,85.75 L496.99,85.53 L498.31,85.31 L499.62,85.09 L500.94,84.87 L502.26,84.66 L503.57,84.44 L504.89,84.23 L506.20,84.01 L507.52,83.80 L508.84,83.59 L510.15,83.38 L511.47,83.17 L512.79,82.96 L514.10,82.76 L515.42,82.55 L516.73,82.35 L518.05,82.14 L519.37,81.94 L520.68,81.74 L522.00,81.54 L523.32,81.34 L524.63,81.14 L525.95,80.94 L527.26,80.74 L528.58,80.55 L529.90,80.35 L531.21,80.16 L532.53,79.97 L533.85,79.78 L535.16,79.58 L536.48,79.39 L537.80,79.21 L539.11,79.02 L540.43,78.83 L541.74,78.65 L543.06,78.46 L544.38,78.28 L545.69,78.09 L547.01,77.91 L548.33,77.73 L549.64,77.55 L550.96,77.37 L552.27,77.19 L553.59,77.01 L554.91,76.84 L556.22,76.66 L557.54,76.49 L558.86,76.31 L560.17,76.14 L561.49,75.97 L562.80,75.80 L564.12,75.63 L565.44,75.46 L566.75,75.29 L568.07,75.12 L569.39,74.95 L570.70,74.79 L572.02,74.62 L573.33,74.46 L574.65,74.29 L575.97,74.13 L577.28,73.97 L578.60,73.81 L579.92,73.65 L581.23,73.49 L582.55,73.33 L583.86,73.17 L585.18,73.02 L586.50,72.86 L587.81,72.71 L589.13,72.55 L590.45,72.40 L591.76,72.25 L593.08,72.10 L594.40,71.94 L595.71,71.79 L597.03,71.65 L598.34,71.50 L599.66,71.35 L600.98,71.20 L602.29,71.06 L603.61,70.91 L604.93,70.77 L606.24,70.62 L607.56,70.48 L608.87,70.34 L610.19,70.20 L611.51,70.06 L612.82,69.92 L614.14,69.78 L615.46,69.64 L616.77,69.50 L618.09,69.37 L619.40,69.23 L620.72,69.09 L622.04,68.96 L623.35,68.83 L624.67,68.69 L625.99,68.56 L627.30,68.43 L628.62,68.30 L629.93,68.17 L631.25,68.04 L632.57,67.91 L633.88,67.79 L635.20,67.66 L636.52,67.53 L637.83,67.41 L639.15,67.28 L640.46,67.16 L641.78,67.04 L643.10,66.92 L644.41,66.79 L645.73,66.67 L647.05,66.55 L648.36,66.43 L649.68,66.32 L651.00,66.20 L652.31,66.08 L653.63,65.96 L654.94,65.85 L656.26,65.73 L657.58,65.62 L658.89,65.51 L660.21,65.39 L661.53,65.28 L662.84,65.17 L664.16,65.06 L665.47,64.95 L666.79,64.84 L668.11,64.73 L669.42,64.62 L670.74,64.52 L672.06,64.41 L673.37,64.30 L674.69,64.20 L676.00,64.10 L677.32,63.99 L678.64,63.89 L679.95,63.79 L681.27,63.69 L682.59,63.58 L683.90,63.48 L685.22,63.39 L686.53,63.29 L687.85,63.19 L689.17,63.09 L690.48,62.99 L691.80,62.90 L693.12,62.80 L694.43,62.71 L695.75,62.62 L697.07,62.52 L698.38,62.43 L699.70,62.34 L701.01,62.25 L702.33,62.16 L703.65,62.07 L704.96,61.98 L706.28,61.89 L707.60,61.80 L708.91,61.71 L710.23,61.63 L711.54,61.54 L712.86,61.46 L714.18,61.37 L715.49,61.29 L716.81,61.21 L718.13,61.13 L719.44,61.04 L720.76,60.96 L722.07,60.88 L723.39,60.80 L724.71,60.72 L726.02,60.65 L727.34,60.57 L728.66,60.49 L729.97,60.42 L731.29,60.34 L732.60,60.27 L733.92,60.19 L735.24,60.12 L736.55,60.05 L737.87,59.97 L739.19,59.90 L740.50,59.83 L741.82,59.76 L743.13,59.69 L744.45,59.62 L745.77,59.55 L747.08,59.49 L748.40,59.42 L749.72,59.35 L751.03,59.29 L752.35,59.22 L753.67,59.16 L754.98,59.10 L756.30,59.03 L757.61,58.97 L758.93,58.91 L760.25,58.85 L761.56,58.79 L762.88,58.73 L764.20,58.67 L765.51,58.61 L766.83,58.56 L768.14,58.50 L769.46,58.44 L770.78,58.39 L772.09,58.33 L773.41,58.28 L774.73,58.23 L776.04,58.17 L777.36,58.12 L778.67,58.07 L779.99,58.02 L781.31,57.97 L782.62,57.92 L783.94,57.87 L785.26,57.82 L786.57,57.78 L787.89,57.73 L789.20,57.68 L790.52,57.64 L791.84,57.59 L793.15,57.55 L794.47,57.51 L795.79,57.46 L797.10,57.42 L798.42,57.38 L799.73,57.34 L801.05,57.30 L802.37,57.26 L803.68,57.22 L805.00,57.19" stroke="#0f0" stroke-dasharray="9.345 4.673"/>
</g>
<g stroke="#000" fill="none">
<path d="M93.1,236 V262 M93.1,249.12 h8.8" stroke-width="1.8"/>
<path d="M808.8,14.0 V454.85" stroke-width="1.8"/>
<path d="M808.8,57.55 h-8.8 M808.8,73.4 h-8.8" stroke-width="0.9"/>
</g>
<g>
<text x="71.7" y="22.0">1</text>
<text x="69.7" y="95.5">0</text>
<text x="59.1" y="168.4"><tspan dy="2.3" stroke="#000" stroke-width="0.6">−</tspan><tspan dy="-2.3">1</tspan></text>
<text x="57.3" y="242.9"><tspan dy="2.3" stroke="#000" stroke-width="0.6">−</tspan><tspan dy="-2.3">2</tspan></text>
<text x="57.3" y="316.3"><tspan dy="2.3" stroke="#000" stroke-width="0.6">−</tspan><tspan dy="-2.3">3</tspan></text>
<text x="57.3" y="389.3"><tspan dy="2.3" stroke="#000" stroke-width="0.6">−</tspan><tspan dy="-2.3">4</tspan></text>
<text x="57.3" y="462.8"><tspan dy="2.3" stroke="#000" stroke-width="0.6">−</tspan><tspan dy="-2.3">5</tspan></text>
<text x="164.0" y="487.4">1</text>
<text x="281.9" y="487.4">1.5</text>
<text x="419.3" y="487.4">2</text>
<text x="538.4" y="487.4">2.5</text>
<text x="674.2" y="487.4">3</text>
<text x="792.3" y="487.4">3.5</text>
</g>
<g>
<rect x="452.6" y="233.6" width="292.6" height="126.2" fill="#000"/>
<rect x="445" y="225.6" width="291" height="124.6" fill="#fff" stroke="#000" stroke-width="1.6"/>
<path d="M459.4,252.4 H514" stroke="#f00" stroke-width="4.8" fill="none"/>
<path d="M459.4,288.2 H511.6" stroke="#00f" stroke-width="4.8" fill="none" stroke-dasharray="23.4 4.7"/>
<path d="M459.4,324.2 H511.6" stroke="#0f0" stroke-width="4.8" fill="none" stroke-dasharray="9.3 4.7"/>
<text x="527.2" y="264.2">W<tspan font-size="23.5">C</tspan> <tspan dy="3.8" stroke="#000" stroke-width="0.7">=</tspan><tspan dy="-3.8"> 22.7 nm</tspan></text>
<text x="527.2" y="300.3">W<tspan font-size="23.5">C</tspan> <tspan dy="3.8" stroke="#000" stroke-width="0.7">=</tspan><tspan dy="-3.8"> 25.6 nm</tspan></text>
<text x="527.2" y="336.4">W<tspan font-size="23.5">C</tspan> <tspan dy="3.8" stroke="#000" stroke-width="0.7">=</tspan><tspan dy="-3.8"> 28.4 nm</tspan></text>
</g>
<text x="373.6" y="537.6">V<tspan font-size="23.5">C</tspan> (Volt)</text>
<text transform="translate(20.6,309.6) rotate(-90)">log(<tspan font-style="italic">I<tspan font-size="22.5">D</tspan>/I<tspan font-size="22.5">0</tspan></tspan>)</text>
</svg>
</body></html>
